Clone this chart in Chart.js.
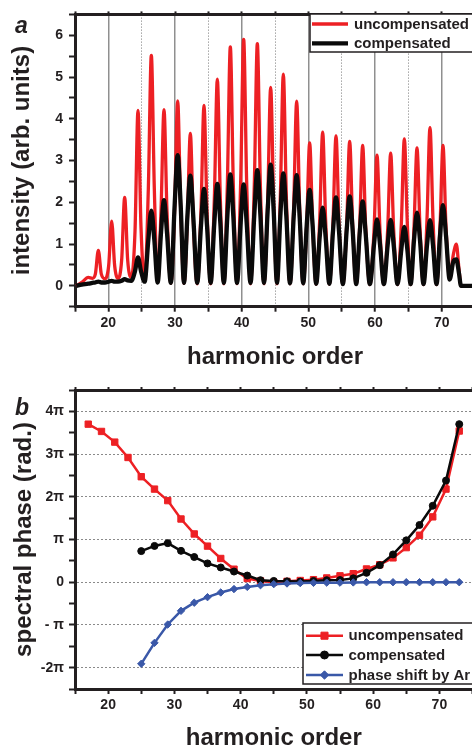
<!DOCTYPE html>
<html>
<head>
<meta charset="utf-8">
<script src="https://cdn.jsdelivr.net/npm/chart.js@4.4.1/dist/chart.umd.min.js"></script>
<style>
  html, body { margin: 0; padding: 0; background: #fff; }
  body { width: 472px; height: 749px; overflow: hidden; position: relative; }
  .panel { position: absolute; left: 0; }
</style>
</head>
<body>
<div class="panel" style="top:0"><canvas id="spectrum" width="478" height="370"></canvas></div>
<div class="panel" style="top:370px"><canvas id="phase" width="478" height="379"></canvas></div>
<script>
const specX = [
  15.2, 16.0, 17.0, 17.6,
  18.05, 18.5, 18.95, 19.5,
  20.05, 20.5, 20.95, 21.48,
  22.0, 22.45, 22.9, 23.45,
  24.0, 24.45, 24.9, 25.45,
  26.0, 26.45, 26.9, 27.4,
  27.9, 28.35, 28.8, 29.38,
  29.95, 30.4, 30.85, 31.35,
  31.85, 32.3, 32.75, 33.33,
  33.9, 34.35, 34.8, 35.35,
  35.9, 36.35, 36.8, 37.33,
  37.85, 38.3, 38.75, 39.3,
  39.85, 40.3, 40.75, 41.33,
  41.9, 42.35, 42.8, 43.35,
  43.9, 44.35, 44.8, 45.3,
  45.8, 46.25, 46.7, 47.25,
  47.8, 48.25, 48.7, 49.23,
  49.75, 50.2, 50.65, 51.18,
  51.7, 52.15, 52.6, 53.15,
  53.7, 54.15, 54.6, 55.18,
  55.75, 56.2, 56.65, 57.18,
  57.7, 58.15, 58.6, 59.23,
  59.85, 60.3, 60.75, 61.33,
  61.9, 62.35, 62.8, 63.38,
  63.95, 64.4, 64.85, 65.35,
  65.85, 66.3, 66.75, 67.28,
  67.8, 68.25, 68.7, 69.23,
  69.75, 70.2, 70.65, 71.2,
  71.75, 72.2, 72.6, 72.9, 75.0
];
const specRed = [
  0, 0.08, 0.2, 0.18,
  0.28, 0.85, 0.28, 0.17,
  0.48, 1.55, 0.48, 0.18,
  0.62, 2.12, 0.62, 0.2,
  1.3, 4.2, 1.4, 0.12,
  2.32, 5.52, 2.32, 0.08,
  1.77, 4.22, 1.77, 0.06,
  1.86, 4.43, 1.86, 0.06,
  1.53, 3.65, 1.53, 0.05,
  1.81, 4.32, 1.81, 0.05,
  2.08, 4.95, 2.08, 0.05,
  2.4, 5.72, 2.4, 0.05,
  2.48, 5.9, 2.48, 0.05,
  2.44, 5.8, 2.44, 0.05,
  2.0, 4.75, 2.0, 0.05,
  2.13, 5.07, 2.13, 0.05,
  1.86, 4.42, 1.86, 0.05,
  1.44, 3.42, 1.44, 0.04,
  1.55, 3.68, 1.55, 0.04,
  1.51, 3.59, 1.51, 0.04,
  1.45, 3.46, 1.45, 0.04,
  1.41, 3.36, 1.41, 0.03,
  1.31, 3.13, 1.31, 0.03,
  1.34, 3.18, 1.34, 0.03,
  1.48, 3.52, 1.48, 0.03,
  1.39, 3.3, 1.39, 0.03,
  1.59, 3.79, 1.59, 0.03,
  1.41, 3.36, 1.41, 0.2,
  0.75, 1.0, 0.4, 0, 0
];
const specBlack = [
  0, 0.03, 0.05, 0.07,
  0.08, 0.1, 0.08, 0.08,
  0.1, 0.12, 0.1, 0.1,
  0.12, 0.16, 0.13, 0.12,
  0.35, 0.68, 0.35, 0.1,
  1.1, 1.8, 1.1, 0.08,
  1.27, 2.05, 1.27, 0.07,
  1.94, 3.13, 1.94, 0.07,
  1.64, 2.64, 1.64, 0.07,
  1.44, 2.32, 1.44, 0.07,
  1.51, 2.44, 1.51, 0.07,
  1.66, 2.67, 1.66, 0.07,
  1.51, 2.43, 1.51, 0.07,
  1.72, 2.77, 1.72, 0.07,
  1.8, 2.9, 1.8, 0.07,
  1.67, 2.69, 1.67, 0.06,
  1.64, 2.65, 1.64, 0.06,
  1.43, 2.3, 1.43, 0.05,
  1.16, 1.87, 1.16, 0.05,
  1.31, 2.12, 1.31, 0.04,
  1.33, 2.14, 1.33, 0.04,
  1.25, 2.02, 1.25, 0.04,
  0.99, 1.59, 0.99, 0.04,
  0.98, 1.58, 0.98, 0.04,
  0.87, 1.41, 0.87, 0.04,
  1.09, 1.75, 1.09, 0.04,
  0.97, 1.57, 0.97, 0.04,
  1.2, 1.93, 1.2, 0.15,
  0.58, 0.63, 0.3, 0, 0
];

// panel b: spectral phase in units of pi
const harmUncomp = [17, 19, 21, 23, 25, 27, 29, 31, 33, 35, 37, 39, 41, 43, 45, 47, 49, 51, 53, 55, 57, 59, 61, 63, 65, 67, 69, 71, 73];
const phaseUncomp = [3.70, 3.53, 3.28, 2.92, 2.47, 2.18, 1.91, 1.48, 1.13, 0.845, 0.556, 0.305, 0.087, 0.03, 0.0, 0.02, 0.04, 0.06, 0.1, 0.15, 0.2, 0.31, 0.41, 0.57, 0.81, 1.10, 1.53, 2.18, 3.54];
const harmComp = [25, 27, 29, 31, 33, 35, 37, 39, 41, 43, 45, 47, 49, 51, 53, 55, 57, 59, 61, 63, 65, 67, 69, 71, 73];
const phaseComp = [0.728, 0.85, 0.915, 0.735, 0.59, 0.44, 0.345, 0.25, 0.156, 0.047, 0.03, 0.02, 0.015, 0.03, 0.047, 0.05, 0.09, 0.22, 0.40, 0.65, 0.98, 1.34, 1.79, 2.38, 3.70];
const phaseAr = [-1.91, -1.42, -0.99, -0.67, -0.48, -0.35, -0.24, -0.16, -0.11, -0.07, -0.045, -0.03, -0.02, -0.015, -0.01, -0.01, -0.005, 0, 0, 0, 0, 0, 0, 0, 0];

// tick labels
const xTickLabels = [20, 30, 40, 50, 60, 70];
const intensityTickLabels = [0, 1, 2, 3, 4, 5, 6];
const phaseTickValues = [-2, -1, 0, 1, 2, 3, 4];
const phaseTickLabels = ['-2\u03c0', '- \u03c0', '0', '\u03c0', '2\u03c0', '3\u03c0', '4\u03c0'];

const INK = '#231f20';
const RED = '#ed2024';
const BLACK = '#0a0a0a';
const BLUE = '#3a58a8';
const NONE = 'rgba(0,0,0,0)';

Chart.defaults.font.family = 'Liberation Sans';
Chart.defaults.font.weight = 'bold';
Chart.defaults.color = INK;
Chart.defaults.animation = false;

const fixWidth = w => s => { s.width = w; };
const fixHeight = h => s => { s.height = h; };
const tickVal = c => (c.tick ? c.tick.value : undefined);

function toPoints(xs, ys) {
    return xs.map((x, i) => ({ x: x, y: ys[i] }));
}

function drawMarker(ctx, style, x, y, r) {
    ctx.beginPath();
    if (style === 'rect') {
        const s = r * Math.SQRT1_2;
        ctx.rect(x - s, y - s, 2 * s, 2 * s);
    } else if (style === 'rectRot') {
        ctx.moveTo(x - r, y);
        ctx.lineTo(x, y - r);
        ctx.lineTo(x + r, y);
        ctx.lineTo(x, y + r);
        ctx.closePath();
    } else {
        ctx.arc(x, y, r, 0, Math.PI * 2);
    }
    ctx.fill();
    ctx.stroke();
}

// legend box and panel letter, drawn inside the plot like the original figure
const decor = {
    id: 'decor',
    afterDraw(chart, args, opts) {
        const ctx = chart.ctx;
        const box = opts.box;
        ctx.save();
        ctx.fillStyle = '#fff';
        ctx.fillRect(box.x, box.y, box.w, box.h);
        ctx.lineWidth = 1.5;
        ctx.strokeStyle = INK;
        ctx.strokeRect(box.x, box.y, box.w, box.h);

        opts.items.forEach((idx, k) => {
            const ds = chart.data.datasets[idx];
            const y = box.rows[k];
            ctx.beginPath();
            ctx.lineWidth = opts.lineWidth || ds.borderWidth;
            ctx.strokeStyle = ds.borderColor;
            ctx.moveTo(box.lineX0, y);
            ctx.lineTo(box.lineX1, y);
            ctx.stroke();
            if (ds.pointRadius) {
                ctx.fillStyle = ds.borderColor;
                ctx.lineWidth = 1;
                drawMarker(ctx, ds.pointStyle, (box.lineX0 + box.lineX1) / 2, y, ds.pointRadius + 0.5);
            }
            ctx.fillStyle = INK;
            ctx.font = 'bold 15px "Liberation Sans"';
            ctx.textAlign = 'left';
            ctx.textBaseline = 'middle';
            ctx.fillText(ds.label, box.textX, y + 0.5);
        });

        ctx.fillStyle = INK;
        ctx.font = 'italic bold 23px "Liberation Sans"';
        ctx.textAlign = 'left';
        ctx.textBaseline = 'alphabetic';
        ctx.fillText(opts.letter.text, opts.letter.x, opts.letter.y);
        ctx.restore();
    }
};

// ---------- panel a ----------
new Chart(document.getElementById('spectrum'), {
    type: 'line',
    data: {
        datasets: [
            {
                label: 'uncompensated',
                data: toPoints(specX, specRed),
                borderColor: RED,
                borderWidth: 3.3,
                pointRadius: 0,
                cubicInterpolationMode: 'monotone',
                xAxisID: 'x',
                order: 2
            },
            {
                label: 'compensated',
                data: toPoints(specX, specBlack),
                borderColor: BLACK,
                borderWidth: 4.3,
                pointRadius: 0,
                cubicInterpolationMode: 'monotone',
                xAxisID: 'x',
                order: 1
            }
        ]
    },
    options: {
        responsive: false,
        animation: false,
        layout: { padding: 0 },
        plugins: {
            legend: { display: false },
            tooltip: { enabled: false },
            decor: {
                box: { x: 310, y: 14, w: 200, h: 38, lineX0: 312, lineX1: 348, textX: 354, rows: [24, 43.3] },
                items: [0, 1],
                lineWidth: 0,
                letter: { text: 'a', x: 15, y: 33 }
            }
        },
        scales: {
            x: {
                type: 'linear',
                position: 'bottom',
                min: 15,
                max: 75,
                afterFit: fixHeight(63.3),
                ticks: {
                    stepSize: 5,
                    autoSkip: false,
                    maxRotation: 0,
                    padding: 3,
                    font: { size: 14, weight: 'bold' },
                    callback: v => (xTickLabels.includes(v) ? String(v) : '')
                },
                grid: {
                    color: c => {
                        const v = tickVal(c);
                        if (v === undefined || v === 15 || v === 75) return NONE;
                        return v % 10 === 0 ? '#8f8f8f' : '#a5a5a5';
                    },
                    lineWidth: c => (tickVal(c) % 10 === 0 ? 1.5 : 1),
                    tickColor: INK,
                    tickWidth: 2,
                    tickLength: 5
                },
                border: {
                    color: INK,
                    width: 3,
                    dash: c => (tickVal(c) % 10 === 5 ? [1.5, 1.5] : [])
                },
                title: {
                    display: true,
                    text: 'harmonic order',
                    font: { size: 24, weight: 'bold', lineHeight: 0.8 },
                    padding: { top: 0, bottom: 3.5 }
                }
            },
            xTop: {
                type: 'linear',
                position: 'top',
                min: 15,
                max: 75,
                afterFit: fixHeight(10),
                ticks: { display: false, stepSize: 5 },
                grid: { drawOnChartArea: false, tickColor: INK, tickWidth: 2, tickLength: 3 },
                border: { color: INK, width: 3 }
            },
            y: {
                type: 'linear',
                position: 'left',
                min: -0.5,
                max: 6.5,
                afterFit: fixWidth(75),
                ticks: {
                    stepSize: 0.5,
                    autoSkip: false,
                    padding: 6,
                    font: { size: 14, weight: 'bold' },
                    callback: v => (intensityTickLabels.includes(v) ? String(v) : '')
                },
                grid: { color: NONE, tickColor: INK, tickWidth: 2, tickLength: 6 },
                border: { color: INK, width: 3 },
                title: {
                    display: true,
                    text: 'intensity (arb. units)',
                    font: { size: 24, weight: 'bold', lineHeight: 1 },
                    padding: { top: 10, bottom: 0 }
                }
            }
        }
    },
    plugins: [decor]
});

// ---------- panel b ----------
new Chart(document.getElementById('phase'), {
    type: 'line',
    data: {
        datasets: [
            {
                label: 'uncompensated',
                data: toPoints(harmUncomp, phaseUncomp),
                borderColor: RED,
                backgroundColor: RED,
                borderWidth: 2.5,
                pointStyle: 'rect',
                pointRadius: 4.5,
                pointBorderWidth: 1,
                xAxisID: 'x',
                order: 3
            },
            {
                label: 'compensated',
                data: toPoints(harmComp, phaseComp),
                borderColor: BLACK,
                backgroundColor: BLACK,
                borderWidth: 2.5,
                pointStyle: 'circle',
                pointRadius: 3.5,
                pointBorderWidth: 1,
                xAxisID: 'x',
                order: 2
            },
            {
                label: 'phase shift by Ar',
                data: toPoints(harmComp, phaseAr),
                borderColor: BLUE,
                backgroundColor: BLUE,
                borderWidth: 2.5,
                pointStyle: 'rectRot',
                pointRadius: 3.7,
                pointBorderWidth: 1,
                xAxisID: 'x',
                order: 1
            }
        ]
    },
    options: {
        responsive: false,
        animation: false,
        layout: { padding: 0 },
        plugins: {
            legend: { display: false },
            tooltip: { enabled: false },
            decor: {
                box: { x: 303, y: 253, w: 200, h: 61, lineX0: 306, lineX1: 343, textX: 348.5, rows: [265.7, 285, 305] },
                items: [0, 1, 2],
                lineWidth: 2.5,
                letter: { text: 'b', x: 15, y: 45 }
            }
        },
        scales: {
            x: {
                type: 'linear',
                position: 'bottom',
                min: 15,
                max: 75,
                afterFit: fixHeight(60),
                ticks: {
                    stepSize: 5,
                    autoSkip: false,
                    maxRotation: 0,
                    padding: 3,
                    font: { size: 14, weight: 'bold' },
                    callback: v => (xTickLabels.includes(v) ? String(v) : '')
                },
                grid: { color: NONE, tickColor: INK, tickWidth: 2, tickLength: 5 },
                border: { color: INK, width: 3 },
                title: {
                    display: true,
                    text: 'harmonic order',
                    font: { size: 24, weight: 'bold', lineHeight: 0.8 },
                    padding: { top: 0, bottom: 1.2 }
                }
            },
            xTop: {
                type: 'linear',
                position: 'top',
                min: 15,
                max: 75,
                afterFit: fixHeight(20),
                ticks: { display: false, stepSize: 5 },
                grid: { drawOnChartArea: false, tickColor: INK, tickWidth: 2, tickLength: 3 },
                border: { color: INK, width: 3 }
            },
            y: {
                type: 'linear',
                position: 'left',
                min: -2.5,
                max: 4.5,
                afterFit: fixWidth(75),
                ticks: {
                    stepSize: 0.5,
                    autoSkip: false,
                    padding: 5,
                    font: { size: 14, weight: 'bold' },
                    callback: v => {
                        const i = phaseTickValues.indexOf(v);
                        return i >= 0 ? phaseTickLabels[i] : '';
                    }
                },
                grid: {
                    color: c => {
                        const v = tickVal(c);
                        return Number.isInteger(v) && v > -2.5 && v < 4.5 ? '#8a8a8a' : NONE;
                    },
                    lineWidth: 1,
                    tickColor: INK,
                    tickWidth: 2,
                    tickLength: 6
                },
                border: {
                    color: INK,
                    width: 3,
                    dash: c => (Number.isInteger(tickVal(c)) ? [2, 2] : [])
                },
                title: {
                    display: true,
                    text: 'spectral phase (rad.)',
                    font: { size: 24, weight: 'bold', lineHeight: 1 },
                    padding: { top: 12, bottom: 0 }
                }
            }
        }
    },
    plugins: [decor]
});
</script>
</body>
</html>
